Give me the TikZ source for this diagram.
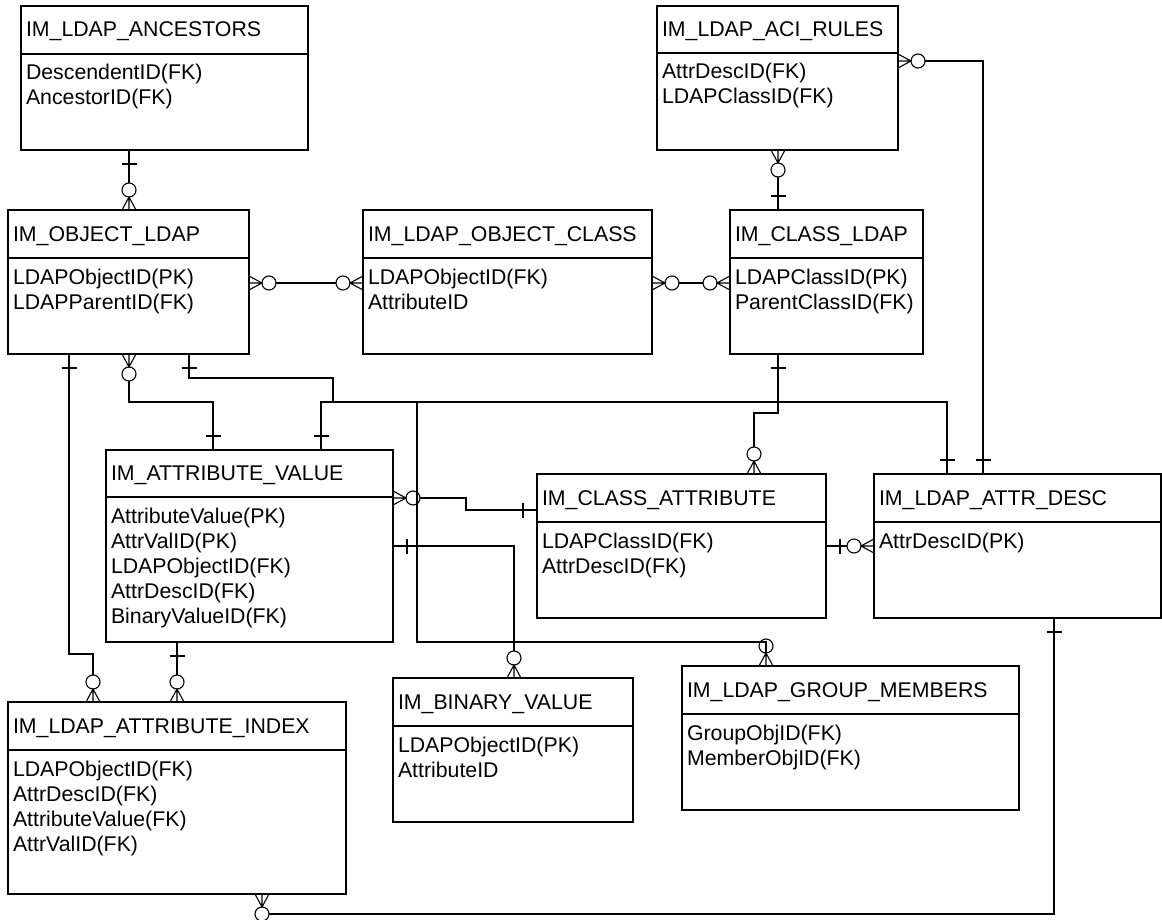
\documentclass[tikz,border=0pt]{standalone}
\usepackage{fontspec}
\setmainfont{Liberation Sans}
\usetikzlibrary{calc}

% x grows to the right, y grows downwards, 1 unit = 1pt
\tikzset{
  x=1pt, y=-1pt,
  ebox/.style={draw=black, line width=1.9pt, rectangle, inner sep=0pt, outer sep=0pt, anchor=north west},
  erule/.style={draw=black, line width=1.9pt},
  etext/.style={inner sep=0pt, outer sep=0pt, anchor=base west, font=\fontsize{21.3}{25}\selectfont},
  conn/.style={draw=black, line width=1.1pt},
  % zero-or-many end: crow's foot at the table edge plus a ring
  crowzero/.pic={
    \draw[conn] (0pt,-7pt) -- (13pt,0pt) -- (0pt,7pt) (0pt,0pt) -- (13pt,0pt);
    \draw[conn] (20pt,0pt) circle[radius=7pt];
  },
  % exactly-one end: a single bar across the line
  onebar/.pic={
    \draw[conn] (14pt,-7.5pt) -- (14pt,7.5pt);
  },
}

% \entity{name}{x1}{y1}{x2}{y2}{separator y}{title}{comma separated columns}
\newcommand\entity[8]{%
  \node[ebox, minimum width={(#4-#2)*1pt}, minimum height={(#5-#3)*1pt}] (#1) at (#2,#3) {};
  \draw[erule] (#1.west |- 0,#6) -- (#1.east |- 0,#6);
  \node[etext] (#1-title) at ({#2+5},{(#3+#6)/2+7}) {#7};
  \foreach \rowtext [count=\rowidx] in {#8} {
    \node[etext] (#1-row\rowidx) at ({#2+5},{#6+26+25*(\rowidx-1)}) {\rowtext};
  }
}

\begin{document}
\begin{tikzpicture}
\useasboundingbox (0,0) rectangle (1162,920);

% ---------------- tables ----------------
\entity{anc}{21}{6}{308}{150}{54}{IM\_LDAP\_ANCESTORS}{DescendentID(FK),AncestorID(FK)}
\entity{aci}{657}{6}{898}{150}{53}{IM\_LDAP\_ACI\_RULES}{AttrDescID(FK),LDAPClassID(FK)}
\entity{objl}{8}{210}{249}{354}{258}{IM\_OBJECT\_LDAP}{LDAPObjectID(PK),LDAPParentID(FK)}
\entity{ocls}{363}{210}{652}{354}{258}{IM\_LDAP\_OBJECT\_CLASS}{LDAPObjectID(FK),AttributeID}
\entity{clsl}{730}{210}{923}{354}{258}{IM\_CLASS\_LDAP}{LDAPClassID(PK),ParentClassID(FK)}
\entity{aval}{106}{450}{393}{642}{497}{IM\_ATTRIBUTE\_VALUE}{AttributeValue(PK),AttrValID(PK),LDAPObjectID(FK),AttrDescID(FK),BinaryValueID(FK)}
\entity{catt}{537}{474}{826}{618}{522}{IM\_CLASS\_ATTRIBUTE}{LDAPClassID(FK),AttrDescID(FK)}
\entity{adesc}{874}{474}{1161}{618}{522}{IM\_LDAP\_ATTR\_DESC}{AttrDescID(PK)}
\entity{bval}{393}{678}{633}{822}{726}{IM\_BINARY\_VALUE}{LDAPObjectID(PK),AttributeID}
\entity{grpm}{682}{666}{1019}{810}{714}{IM\_LDAP\_GROUP\_MEMBERS}{GroupObjID(FK),MemberObjID(FK)}
\entity{aidx}{8}{702}{346}{894}{750}{IM\_LDAP\_ATTRIBUTE\_INDEX}{LDAPObjectID(FK),AttrDescID(FK),AttributeValue(FK),AttrValID(FK)}

% ---------------- relationships ----------------
% ancestors -> object
\draw[conn] (anc.south -| 129,0) -- ($(objl.north -| 129,0)+(0,-27)$);
\path (anc.south -| 129,0) pic[rotate=-90] {onebar};
\path (objl.north -| 129,0) pic[rotate=90] {crowzero};

% object <-> object class
\draw[conn] ($(objl.east |- 0,283)+(27,0)$) -- ($(ocls.west |- 0,283)+(-27,0)$);
\path (objl.east |- 0,283) pic {crowzero};
\path (ocls.west |- 0,283) pic[rotate=180] {crowzero};

% object class <-> class
\draw[conn] ($(ocls.east |- 0,283)+(27,0)$) -- ($(clsl.west |- 0,283)+(-27,0)$);
\path (ocls.east |- 0,283) pic {crowzero};
\path (clsl.west |- 0,283) pic[rotate=180] {crowzero};

% aci rules -> class
\draw[conn] ($(aci.south -| 778,0)+(0,27)$) -- (clsl.north -| 778,0);
\path (aci.south -| 778,0) pic[rotate=-90] {crowzero};
\path (clsl.north -| 778,0) pic[rotate=90] {onebar};

% aci rules -> attribute description
\draw[conn] ($(aci.east |- 0,61)+(27,0)$) -| (adesc.north -| 983,0);
\path (aci.east |- 0,61) pic {crowzero};
\path (adesc.north -| 983,0) pic[rotate=90] {onebar};

% object -> attribute value
\draw[conn] ($(objl.south -| 129,0)+(0,27)$) |- (213,402) -- (aval.north -| 213,0);
\path (objl.south -| 129,0) pic[rotate=-90] {crowzero};
\path (aval.north -| 213,0) pic[rotate=90] {onebar};

% object -> attribute index
\draw[conn] (objl.south -| 69,0) |- (93,654) -- ($(aidx.north -| 93,0)+(0,-27)$);
\path (objl.south -| 69,0) pic[rotate=-90] {onebar};
\path (aidx.north -| 93,0) pic[rotate=90] {crowzero};

% object -> group members
\draw[conn] (objl.south -| 189,0) |- (333,378) |- (417,402) |- (766,642)
  -- ($(grpm.north -| 766,0)+(0,-13)$);
\path (objl.south -| 189,0) pic[rotate=-90] {onebar};
\path (grpm.north -| 766,0) pic[rotate=90] {crowzero};

% attribute description -> attribute value
\draw[conn] (adesc.north -| 947,0) |- (321,402) -- (aval.north -| 321,0);
\path (adesc.north -| 947,0) pic[rotate=90] {onebar};
\path (aval.north -| 321,0) pic[rotate=90] {onebar};

% class -> class attribute
\draw[conn] (clsl.south -| 778,0) |- (754,413) -- ($(catt.north -| 754,0)+(0,-27)$);
\path (clsl.south -| 778,0) pic[rotate=-90] {onebar};
\path (catt.north -| 754,0) pic[rotate=90] {crowzero};

% class attribute -> attribute value
\draw[conn] ($(aval.east |- 0,498)+(27,0)$) -| (466,510) -- (catt.west |- 0,510);
\path (aval.east |- 0,498) pic {crowzero};
\path (catt.west |- 0,510) pic[rotate=180] {onebar};

% attribute value -> binary value
\draw[conn] (aval.east |- 0,546) -| ($(bval.north -| 514,0)+(0,-27)$);
\path (aval.east |- 0,546) pic {onebar};
\path (bval.north -| 514,0) pic[rotate=90] {crowzero};

% class attribute -> attribute description
\draw[conn] (catt.east |- 0,546) -- ($(adesc.west |- 0,546)+(-27,0)$);
\path (catt.east |- 0,546) pic {onebar};
\path (adesc.west |- 0,546) pic[rotate=180] {crowzero};

% attribute value -> attribute index
\draw[conn] (aval.south -| 177,0) -- ($(aidx.north -| 177,0)+(0,-27)$);
\path (aval.south -| 177,0) pic[rotate=-90] {onebar};
\path (aidx.north -| 177,0) pic[rotate=90] {crowzero};

% attribute description -> attribute index
\draw[conn] (adesc.south -| 1054,0) |- ($(aidx.south -| 262,0)+(7,20)$);
\path (adesc.south -| 1054,0) pic[rotate=-90] {onebar};
\path (aidx.south -| 262,0) pic[rotate=-90] {crowzero};
\end{tikzpicture}
\end{document}
